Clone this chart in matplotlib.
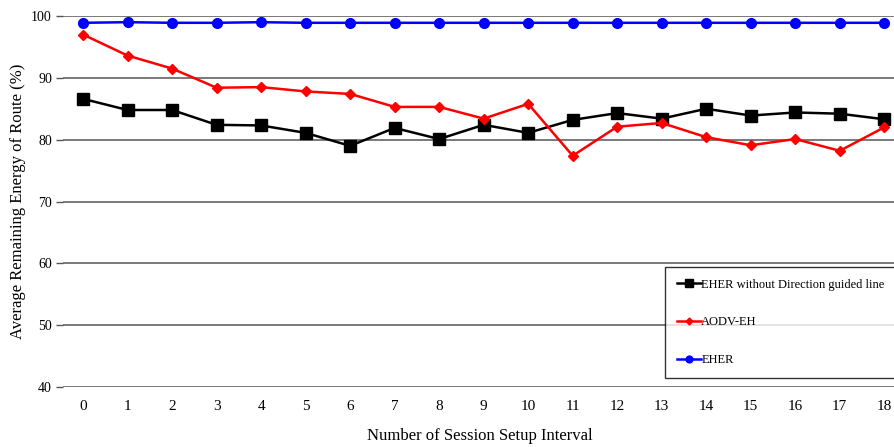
import numpy as np
import matplotlib.pyplot as plt

plt.rcParams["font.family"] = ["Liberation Serif", "DejaVu Serif"]

intervals = list(range(19))
eher_no_dir = [86.6, 84.8, 84.8, 82.4, 82.3, 81.1, 79.0, 81.9, 80.1, 82.4,
               81.1, 83.2, 84.3, 83.4, 85.0, 83.9, 84.4, 84.2, 83.3]
aodv_eh = [97.0, 93.6, 91.5, 88.4, 88.5, 87.8, 87.4, 85.3, 85.3, 83.4,
           85.8, 77.4, 82.1, 82.7, 80.4, 79.1, 80.1, 78.2, 82.0]
eher = [98.9, 99.0, 98.9, 98.9, 99.0, 98.9, 98.9, 98.9, 98.9, 98.9,
        98.9, 98.9, 98.9, 98.9, 98.9, 98.9, 98.9, 98.9, 98.9]
y_ticks = [40, 50, 60, 70, 80, 90, 100]

fig = plt.figure(figsize=(8.95, 4.47), dpi=100)
ax = fig.add_axes([0.0704, 0.1342, 0.94, 0.83])

ax.plot(intervals, eher_no_dir, "k-s", lw=1.8, ms=8,
        label="EHER without Direction guided line")
ax.plot(intervals, aodv_eh, color="red", marker="D", lw=1.8, ms=5,
        label="AODV-EH")
ax.plot(intervals, eher, color="blue", marker="o", lw=1.8, ms=7,
        label="EHER")

ax.set_xlim(-0.45, 18.45)
ax.set_ylim(40, 100)
ax.set_xticks(intervals)
ax.set_yticks(y_ticks)
ax.tick_params(axis="x", length=0, pad=9, labelsize=11)
ax.tick_params(axis="y", length=5, width=1, color="#555555", labelsize=10, pad=3)
ax.yaxis.grid(True, color="#555555", lw=1.1)
ax.set_axisbelow(True)
for s in ax.spines.values():
    s.set_visible(False)

ax.set_xlabel("Number of Session Setup Interval", fontsize=12, va="center")
ax.xaxis.set_label_coords(0.495, -0.132)
ax.set_ylabel("Average Remaining Energy of Route (%)", fontsize=12, va="center")
ax.yaxis.set_label_coords(-0.0535, 0.5)

leg = ax.legend(loc="upper left", bbox_to_anchor=(0.743, 0.403),
                bbox_transform=fig.transFigure, fontsize=9,
                frameon=True, fancybox=False, edgecolor="black",
                labelspacing=2.05, handlelength=1.9, handletextpad=0.05,
                borderpad=0.95, borderaxespad=0, markerscale=0.7)
leg.get_frame().set_linewidth(1.0)

fig.savefig("out.png", dpi=100)
